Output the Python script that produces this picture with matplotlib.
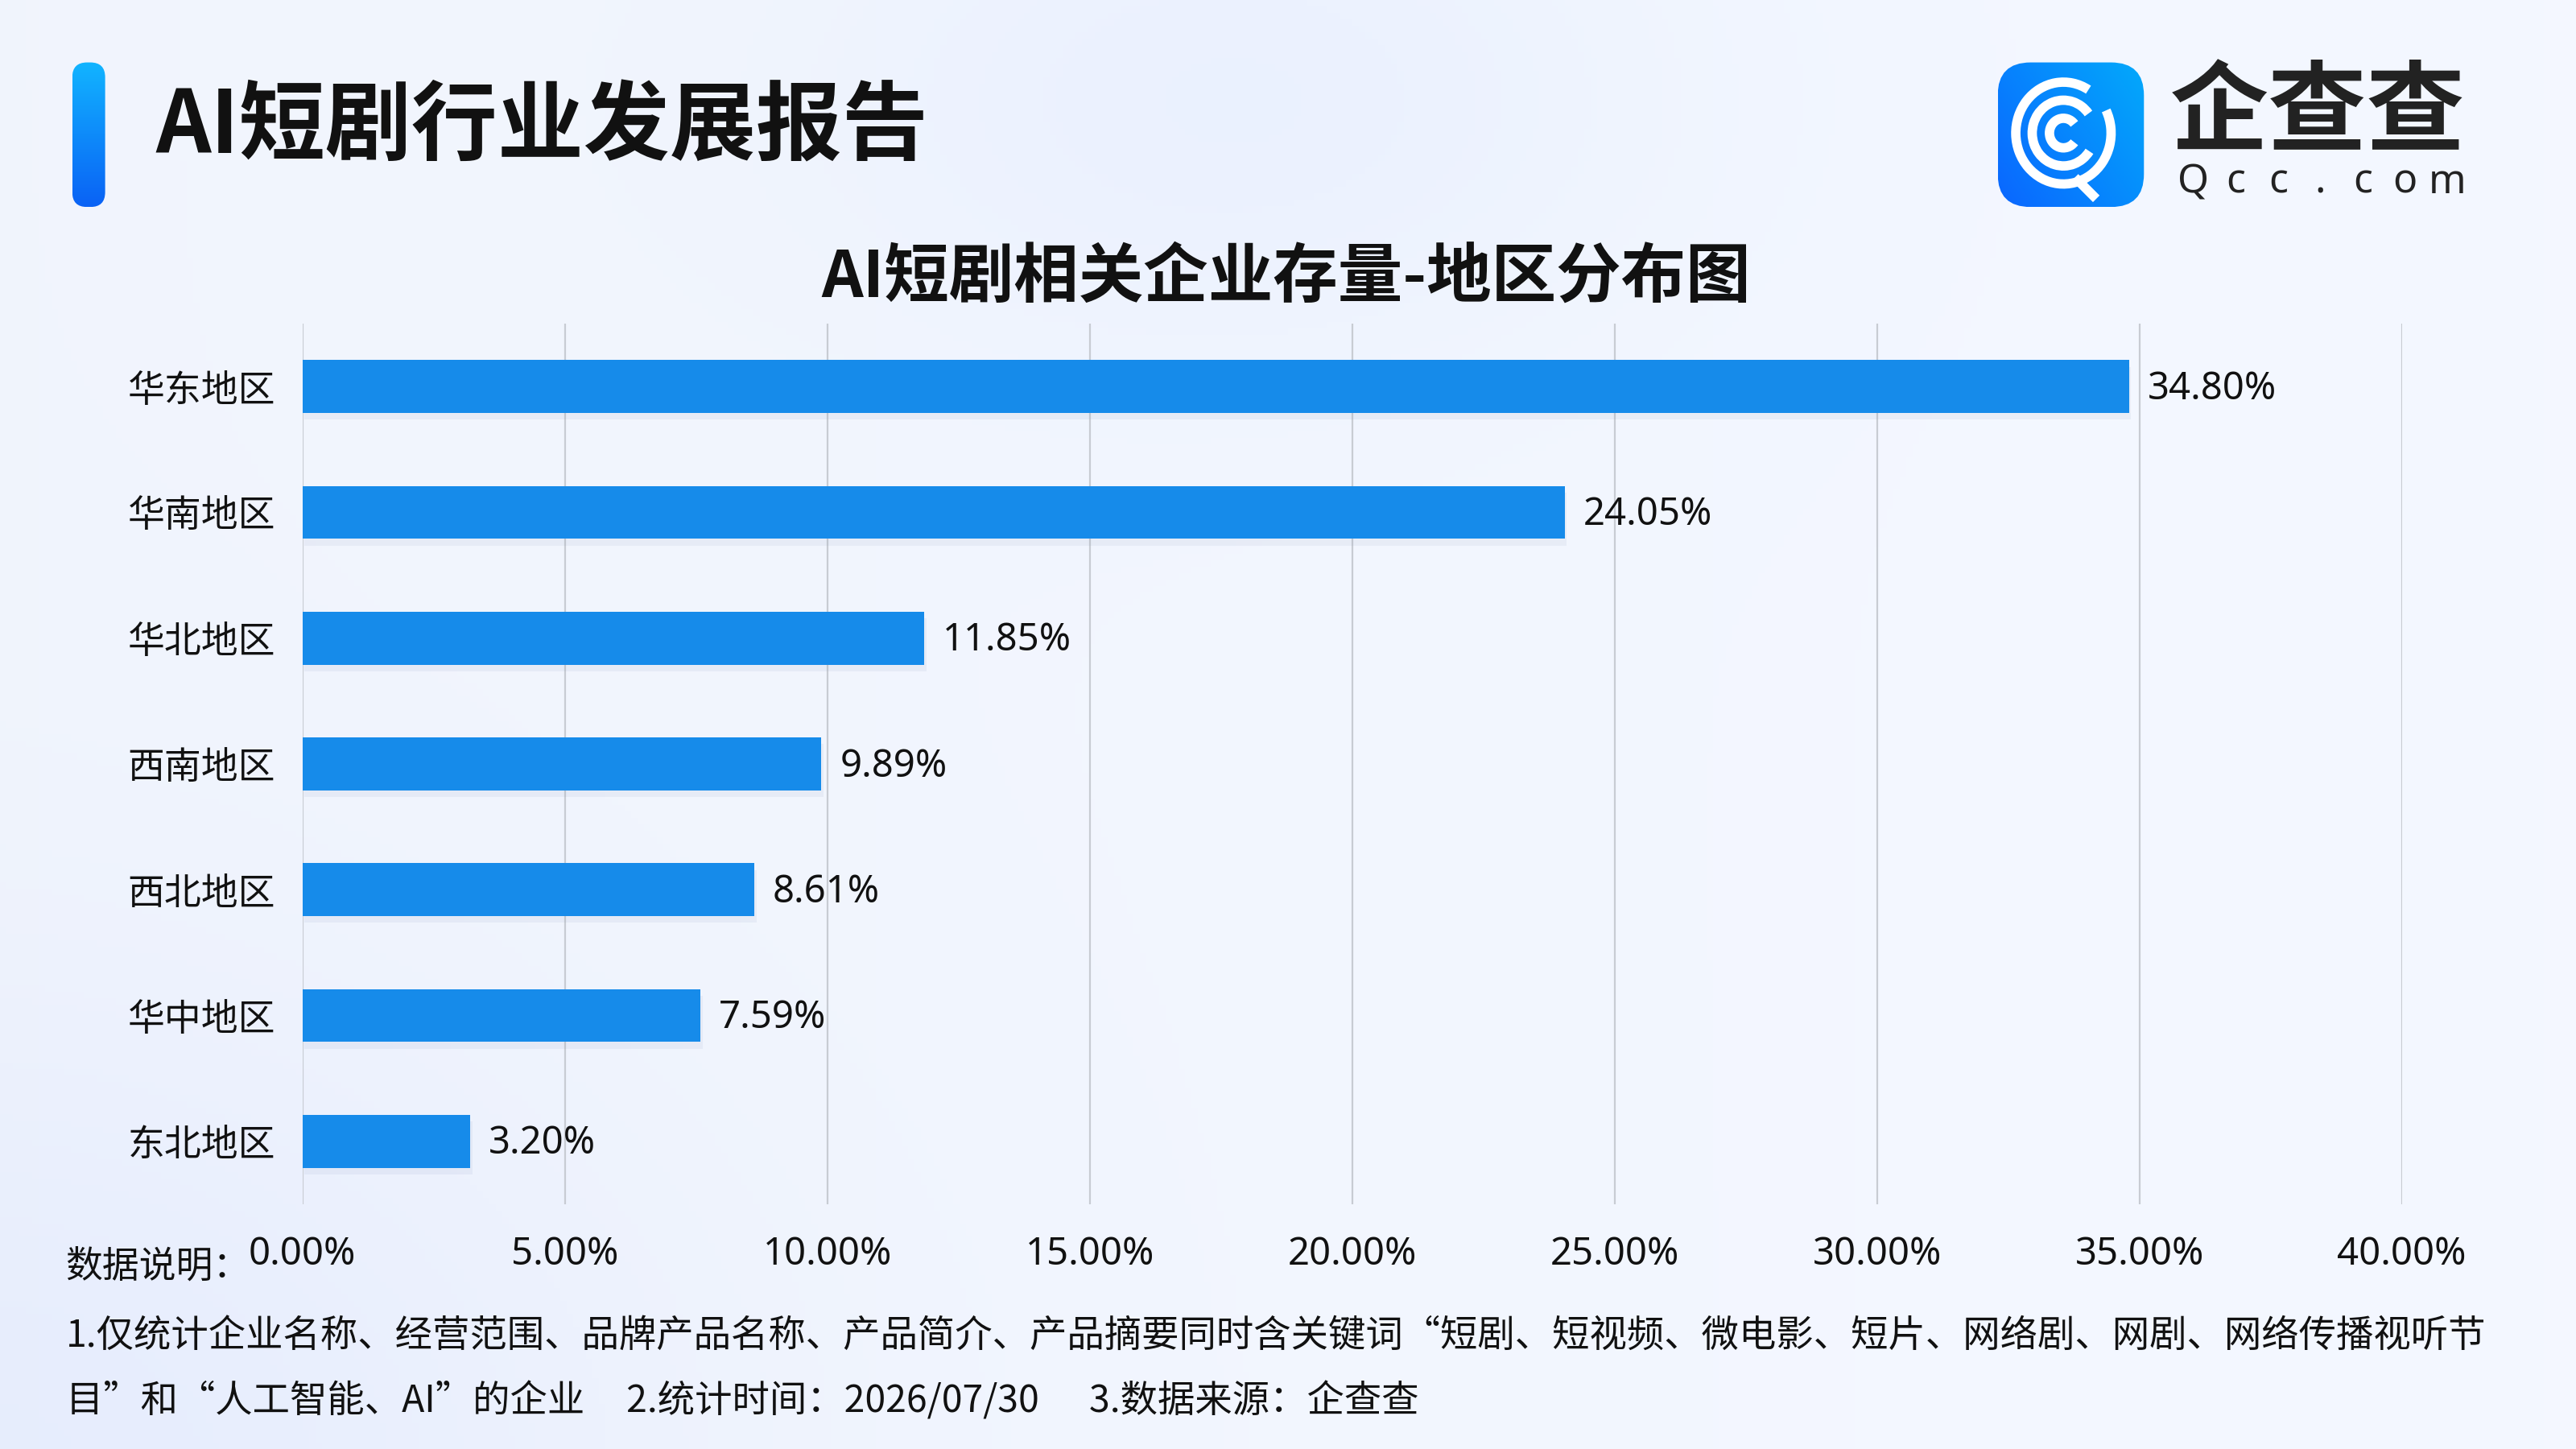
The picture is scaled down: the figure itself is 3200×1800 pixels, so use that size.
import numpy as np
import matplotlib
matplotlib.use('Agg')
import matplotlib.pyplot as plt
from matplotlib.patches import FancyBboxPatch, Arc
from matplotlib import patheffects as pe

plt.rcParams['font.family'] = ['Noto Sans CJK SC', 'DejaVu Sans']

# data
regions = ['华东地区', '华南地区', '华北地区', '西南地区', '西北地区', '华中地区', '东北地区']
shares = [34.80, 24.05, 11.85, 9.89, 8.61, 7.59, 3.20]
xticks = [0, 5, 10, 15, 20, 25, 30, 35, 40]

title = 'AI短剧行业发展报告'
subtitle = 'AI短剧相关企业存量-地区分布图'
note_head = '数据说明：'
note_1 = '1.仅统计企业名称、经营范围、品牌产品名称、产品简介、产品摘要同时含关键词“短剧、短视频、微电影、短片、网络剧、网剧、网络传播视听节'
note_2 = '目”和“人工智能、AI”的企业     2.统计时间：2026/07/30      3.数据来源：企查查'

W, H = 1568, 882  # layout measured on a 1568x882 view

def fx(x):
    return x / W

def fy(y):
    return 1 - y / H

fig = plt.figure(figsize=(16, 9), dpi=200)

# background
bg = fig.add_axes([0, 0, 1, 1])
bg.set_xlim(0, W)
bg.set_ylim(H, 0)
bg.axis('off')
gx, gy = np.meshgrid(np.linspace(0, W, 400), np.linspace(0, H, 225))
base = np.array([0.945, 0.960, 0.992])
blob = np.exp(-(((gx - 760) / 260) ** 2 + ((gy - 60) / 160) ** 2))
corner = np.exp(-(((gx - 0) / 420) ** 2 + ((gy - 900) / 300) ** 2))
img = np.zeros(gx.shape + (3,))
for k, (b1, b2) in enumerate([(-0.03, -0.04), (-0.02, -0.03), (0.0, 0.0)]):
    img[..., k] = base[k] + b1 * blob + b2 * corner + 0.012 * (gx / W)
bg.imshow(np.clip(img, 0, 1), extent=(0, W, H, 0), aspect='auto', zorder=0)

# left accent bar
acc = FancyBboxPatch((44, 38), 20, 88, boxstyle='round,pad=0,rounding_size=9',
                     transform=bg.transData, facecolor='none', edgecolor='none')
bg.add_patch(acc)
grad = np.linspace(0, 1, 100).reshape(-1, 1)
cmap_acc = matplotlib.colors.LinearSegmentedColormap.from_list('acc', ['#12b4ff', '#0a62f5'])
im = bg.imshow(grad, extent=(44, 64, 126, 38), cmap=cmap_acc, aspect='auto', zorder=2)
im.set_clip_path(acc)

fig.text(fx(95), fy(78), title, fontsize=38.5, fontweight='bold', color='#111111',
         ha='left', va='center')

# logo
box = FancyBboxPatch((1216, 38), 89, 88, boxstyle='round,pad=0,rounding_size=20',
                     transform=bg.transData, facecolor='none', edgecolor='none')
bg.add_patch(box)
lg = np.linspace(0, 1, 100)
lgx, lgy = np.meshgrid(lg, lg)
cmap_logo = matplotlib.colors.LinearSegmentedColormap.from_list('logo', ['#0a66ff', '#03a9fb'])
im2 = bg.imshow(0.6 * lgx + 0.4 * (1 - lgy), extent=(1216, 1305, 126, 38), cmap=cmap_logo,
                aspect='auto', zorder=2)
im2.set_clip_path(box)
cx, cy = 1256, 81
bg.add_patch(Arc((cx, cy), 58, 62, theta1=-28, theta2=300, lw=4.2, color='white', zorder=3))
bg.add_patch(Arc((cx, cy), 38, 40, theta1=35, theta2=322, lw=4.2, color='white', zorder=3))
bg.add_patch(Arc((cx, cy), 17, 18, theta1=40, theta2=320, lw=4.2, color='white', zorder=3))
bg.plot([1263, 1276], [108, 121], color='white', lw=4.2, solid_capstyle='butt', zorder=3)
fig.text(fx(1411), fy(70), '企查查', fontsize=44, fontweight='bold', color='#222222',
         ha='center', va='center')
for i, ch in enumerate('Qcc.com'):
    fig.text(fx(1335 + i * 25.8), fy(111), ch, fontsize=18, fontweight='bold',
             color='#222222', ha='center', va='center', family=['Noto Sans', 'DejaVu Sans'])

fig.text(fx(783), fy(169), subtitle, fontsize=29, fontweight='bold', color='#111111',
         ha='center', va='center')

# chart
ax = fig.add_axes([fx(184), fy(733), fx(1462) - fx(184), fy(197) - fy(733)])
ax.patch.set_alpha(0)
pos = np.arange(len(regions))
bars = ax.barh(pos, shares, height=0.42, color='#168bea', zorder=3)
for b in bars:
    b.set_path_effects([pe.SimplePatchShadow(offset=(1, -3), shadow_rgbFace='#7d8db0', alpha=0.09),
                        pe.Normal()])
for p, v in zip(pos, shares):
    ax.text(v + 0.35, p + 0.02, f'{v:.2f}%', va='center', ha='left', fontsize=17,
            color='#111111', family=['Noto Sans', 'DejaVu Sans'])
ax.set_xlim(0, 40)
ax.set_ylim(len(regions) - 0.5, -0.5)
ax.set_xticks(xticks)
ax.set_xticklabels([f'{t:.2f}%' for t in xticks], family=['Noto Sans', 'DejaVu Sans'])
ax.set_yticks(pos)
ax.set_yticklabels(regions)
ax.tick_params(axis='x', length=0, pad=14, labelsize=17, labelcolor='#111111')
ax.tick_params(axis='y', length=0, pad=12, labelsize=16.5, labelcolor='#111111')
ax.grid(axis='x', color='#c8ccd3', linewidth=0.8, zorder=0)
for s in ax.spines.values():
    s.set_visible(False)

# notes
fig.text(fx(40), fy(771), note_head, fontsize=16.5, color='#111111', ha='left', va='center')
fig.text(fx(40), fy(813), note_1, fontsize=16.7, color='#111111', ha='left', va='center')
fig.text(fx(40), fy(853), note_2, fontsize=16.7, color='#111111', ha='left', va='center')

fig.savefig('out.png', dpi=200)
